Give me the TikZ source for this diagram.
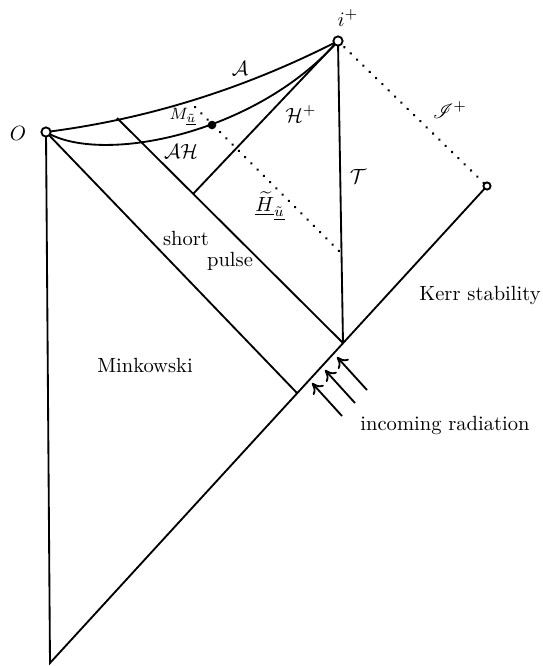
\documentclass[tikz,border=0pt]{standalone}
\usepackage{amsmath,amssymb}
\usepackage{mathrsfs}
\usetikzlibrary{arrows.meta}

\begin{document}
\begin{tikzpicture}[
  x=0.0171cm, y=-0.0171cm,
  edge/.style={line width=0.9pt},
  null/.style={line width=1.3pt, line cap=round, dash pattern=on 0.1pt off 4.2pt},
  ring/.style={draw, circle, line width=0.9pt, fill=white, inner sep=0pt, minimum size=#1},
  ring/.default=4.5pt,
  arr/.style={-{To[length=5pt,width=7pt]}, line width=0.9pt}
]
\useasboundingbox (0,0) rectangle (543,666);

% corners of the diagram
\coordinate (O)     at (46,132);
\coordinate (iplus) at (338,41);
\coordinate (izero) at (487,186);
\coordinate (bot)   at (50,663);
\coordinate (cone)  at (297,393);
\coordinate (pend)  at (343,343);
\coordinate (ptop)  at (117,118);
\coordinate (hbot)  at (193,194);
\coordinate (htop)  at (195,107);
\coordinate (hend)  at (341,253);
\coordinate (M)     at (212,125);

% Minkowski region and Kerr side
\draw[edge] (O) -- (bot) -- (izero);
\draw[edge] (O) -- (cone);
\draw[edge] (ptop) -- (pend);
\draw[edge] (iplus) -- (pend);
\draw[edge] (hbot) -- (iplus);

% apparent horizon and outer curve
\draw[edge] (O) .. controls (149,119) and (246,88) .. (iplus);
\draw[edge] (O) .. controls (100,165) and (255,135) .. (iplus);

% null infinity and the hypersurface
\draw[null] (iplus) -- (izero);
\draw[null] (htop) -- (hend);

% incoming radiation
\foreach \i/\x/\y in {1/342/416, 2/355/403, 3/367/390} {
  \coordinate (rin\i) at (\x,\y);
  \coordinate (rout\i) at (\x-30,\y-33);
  \draw[arr] (rin\i) -- (rout\i);
}

\node[ring] (nO) at (O) {};
\node[ring] (niplus) at (iplus) {};
\node[ring=3.5pt] (nizero) at (izero) {};
\fill (M) circle (2.1pt);

% labels
\node (lO)     at (18,133)  {$O$};
\node (liplus) at (348,18)  {$i^+$};
\node (lA)     at (240,68)  {$\mathcal{A}$};
\node (lM)     at (183,117) {\footnotesize $M_{\underline{\tilde{u}}}$};
\node (lAH)    at (181,151) {$\mathcal{AH}$};
\node (lHp)    at (301,114) {$\mathcal{H}^+$};
\node (lscri)  at (450,110) {$\mathscr{I}^+$};
\node (lT)     at (358,176) {$\mathcal{T}$};
\node (lHt)    at (270,206) {$\underline{\widetilde{H}}_{\underline{\tilde{u}}}$};
\node (lshort) at (186,238) {short};
\node (lpulse) at (230,261) {pulse};
\node (lMink)  at (145,365) {Minkowski};
\node (lKerr)  at (480,295) {Kerr stability};
\node (lrad)   at (445,425) {incoming radiation};
\end{tikzpicture}
\end{document}
